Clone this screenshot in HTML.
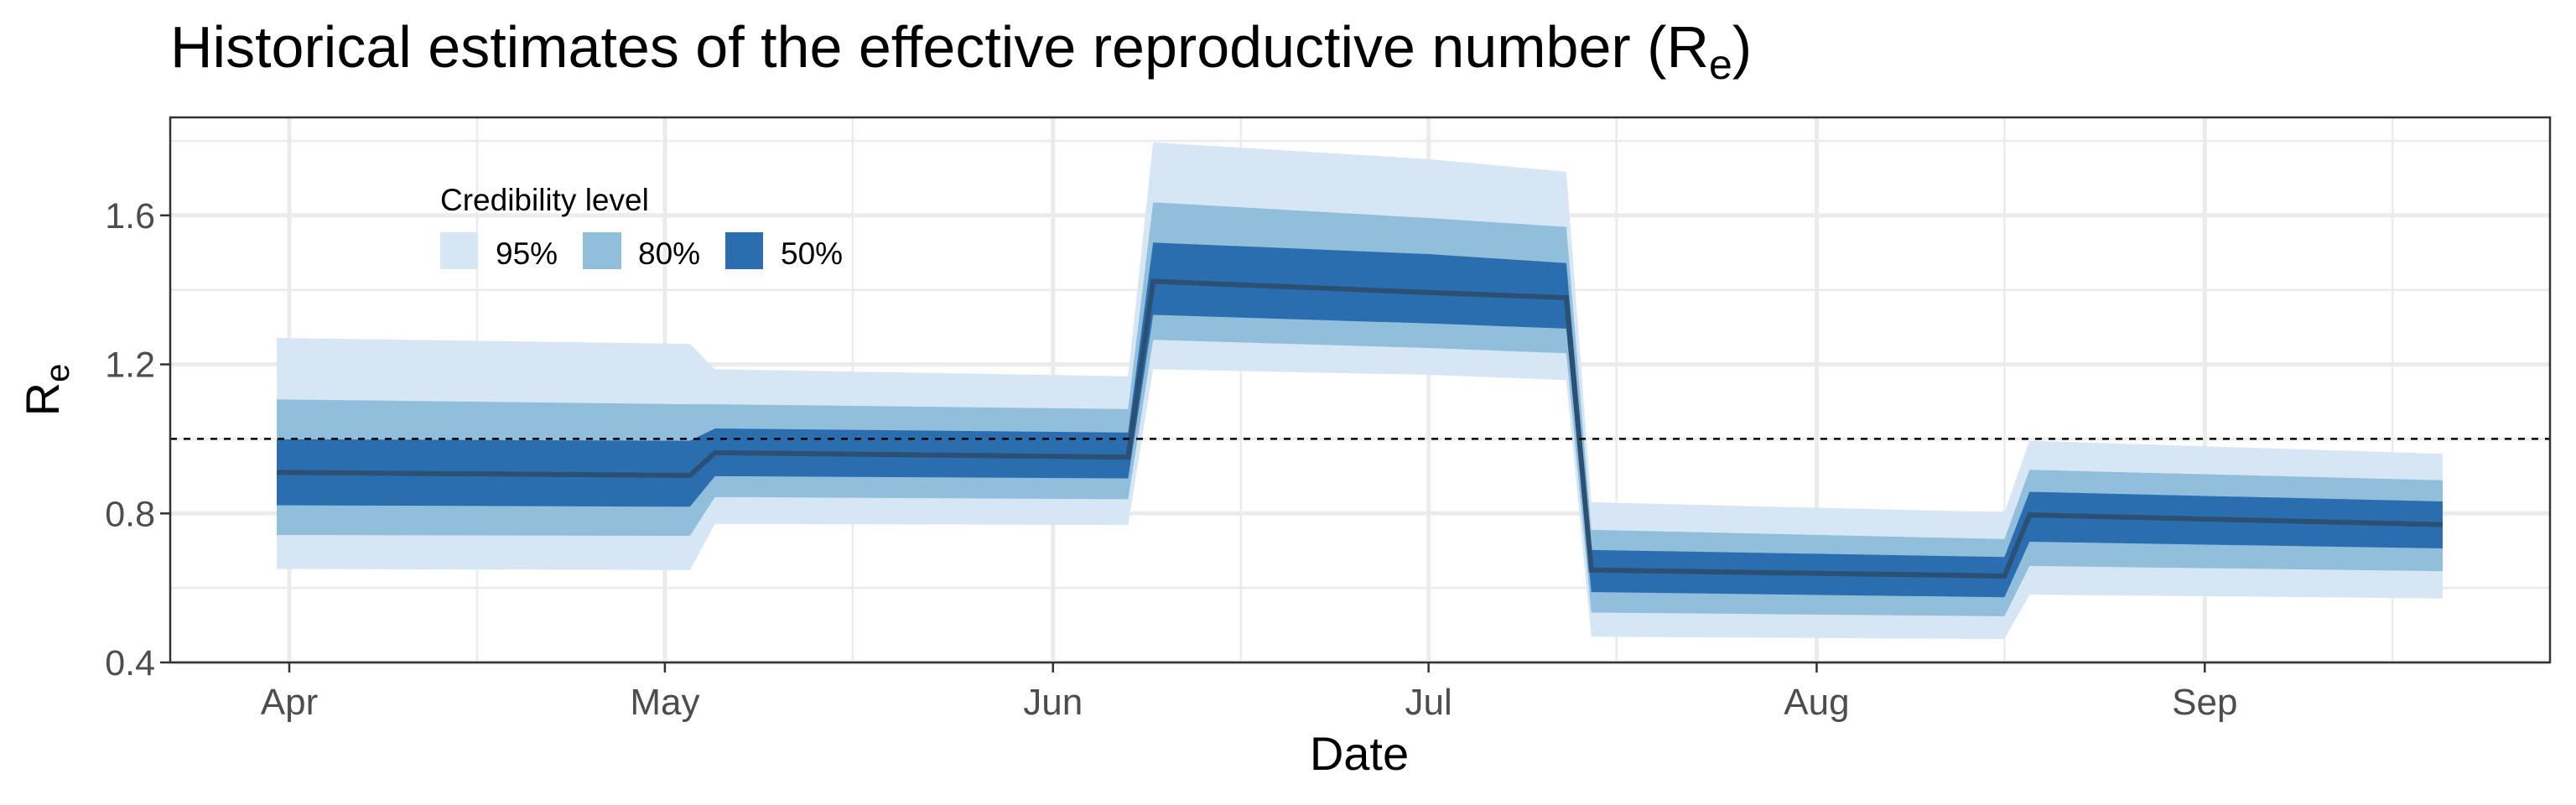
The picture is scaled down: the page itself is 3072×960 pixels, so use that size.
<!DOCTYPE html>
<html><head><meta charset="utf-8"><style>
html,body{margin:0;padding:0;background:#fff}
svg{display:block;font-family:"Liberation Sans",Arial,sans-serif}
</style></head><body>
<svg id="chart" width="3072" height="960" viewBox="0 0 3072 960" xmlns="http://www.w3.org/2000/svg">
<text x="203" y="80" font-size="70" fill="#000">Historical estimates of the effective reproductive number (R<tspan font-size="50" dy="14">e</tspan><tspan dy="-14">)</tspan></text>
<g id="grid"></g>
<g id="bands"></g>
<g id="overlay"></g>
<rect x="203" y="140" width="2838" height="650" fill="none" stroke="#333" stroke-width="2.5"/>
<g id="axes"></g>
<text x="1621" y="918" font-size="56" text-anchor="middle" fill="#000">Date</text>
<text transform="translate(70,465) rotate(-90)" font-size="56" text-anchor="middle" fill="#000">R<tspan font-size="40" dy="12">e</tspan></text>
<g>
<text x="525" y="251" font-size="37" fill="#000">Credibility level</text>
<rect x="525" y="277" width="45" height="44" fill="#d6e6f4"/>
<text x="591" y="315" font-size="37" fill="#000">95%</text>
<rect x="695" y="277" width="46" height="44" fill="#90bedb"/>
<text x="761" y="315" font-size="37" fill="#000">80%</text>
<rect x="865" y="277" width="45" height="44" fill="#2a6eb0"/>
<text x="931" y="315" font-size="37" fill="#000">50%</text>
</g>
</svg>
<script>
// days offset from Apr 1
const days   = [-1, 32, 34, 67, 69, 91, 102, 104, 137, 139, 172];
const up95   = [1.271,1.255,1.187,1.168,1.796,1.751,1.717,0.830,0.803,0.995,0.960];
const up80   = [1.106,1.093,1.093,1.080,1.635,1.593,1.569,0.756,0.731,0.917,0.889];
const up50   = [0.999,0.995,1.028,1.017,1.527,1.496,1.472,0.702,0.683,0.858,0.832];
const median = [0.910,0.902,0.963,0.951,1.423,1.393,1.379,0.648,0.632,0.796,0.770];
const lo50   = [0.822,0.818,0.900,0.894,1.333,1.310,1.296,0.589,0.575,0.724,0.706];
const lo80   = [0.742,0.740,0.844,0.838,1.266,1.244,1.230,0.534,0.524,0.659,0.645];
const lo95   = [0.651,0.648,0.772,0.769,1.187,1.172,1.158,0.469,0.463,0.582,0.572];
const monthLabels = ["Apr","May","Jun","Jul","Aug","Sep"];
const monthDays   = [0,30,61,91,122,153];
const minorDays   = [15,45,76,106,137,168];
const yTicks = [0.4,0.8,1.2,1.6];
const yMinor = [0.6,1.0,1.4,1.8];
const refLine = 1.0;

const X = d => 345 + d*14.93;
const Y = v => 790 - (v-0.4)*444.3;
const NS = "http://www.w3.org/2000/svg";
function mk(tag, parent, attrs){const e=document.createElementNS(NS,tag);for(const k in attrs)e.setAttribute(k,attrs[k]);parent.appendChild(e);return e;}
const grid=document.getElementById('grid'), bands=document.getElementById('bands'), ov=document.getElementById('overlay'), axes=document.getElementById('axes');
const L=203,R=3041,T=140,B=790;
yMinor.forEach(v=>{const e=mk('line',grid,{x1:L,x2:R,y1:Y(v),y2:Y(v),stroke:'#ebebeb','stroke-width':2.5});

});
minorDays.forEach(d=>{const e=mk('line',grid,{x1:X(d),x2:X(d),y1:T,y2:B,stroke:'#ebebeb','stroke-width':2.5});

});
yTicks.forEach(v=>{const e=mk('line',grid,{x1:L,x2:R,y1:Y(v),y2:Y(v),stroke:'#ebebeb','stroke-width':5});

});
monthDays.forEach(d=>{const e=mk('line',grid,{x1:X(d),x2:X(d),y1:T,y2:B,stroke:'#ebebeb','stroke-width':5});

});
function band(up,lo,fill,name){
  let pts=days.map((d,i)=>X(d)+','+Y(up[i]));
  for(let i=days.length-1;i>=0;i--)pts.push(X(days[i])+','+Y(lo[i]));
  const e=mk('polygon',bands,{points:pts.join(' '),fill:fill});
  
  
}
band(up95,lo95,'#d6e6f4','band-95');
band(up80,lo80,'#90bedb','band-80');
band(up50,lo50,'#2a6eb0','band-50');
const ml=mk('polyline',bands,{points:days.map((d,i)=>X(d)+','+Y(median[i])).join(' '),fill:'none',stroke:'#2c4f74','stroke-width':6,'stroke-linejoin':'miter'});


const rl=mk('line',ov,{x1:L,x2:R,y1:Y(refLine),y2:Y(refLine),stroke:'#000','stroke-width':2.5,'stroke-dasharray':'8,8'});


yTicks.forEach(v=>{
  const t=mk('line',axes,{x1:L-12,x2:L,y1:Y(v),y2:Y(v),stroke:'#333','stroke-width':2.5});
  
  
  const s=mk('text',axes,{x:L-18,y:Y(v)+15,'font-size':43,'text-anchor':'end',fill:'#4d4d4d'});
  s.textContent=v.toFixed(1);
  
  
});
monthDays.forEach((d,i)=>{
  const t=mk('line',axes,{x1:X(d),x2:X(d),y1:B,y2:B+12,stroke:'#333','stroke-width':2.5});
  
  
  const s=mk('text',axes,{x:X(d),y:852,'font-size':44,'text-anchor':'middle',fill:'#4d4d4d'});
  s.textContent=monthLabels[i];
  
  
});
</script>
</body></html>
